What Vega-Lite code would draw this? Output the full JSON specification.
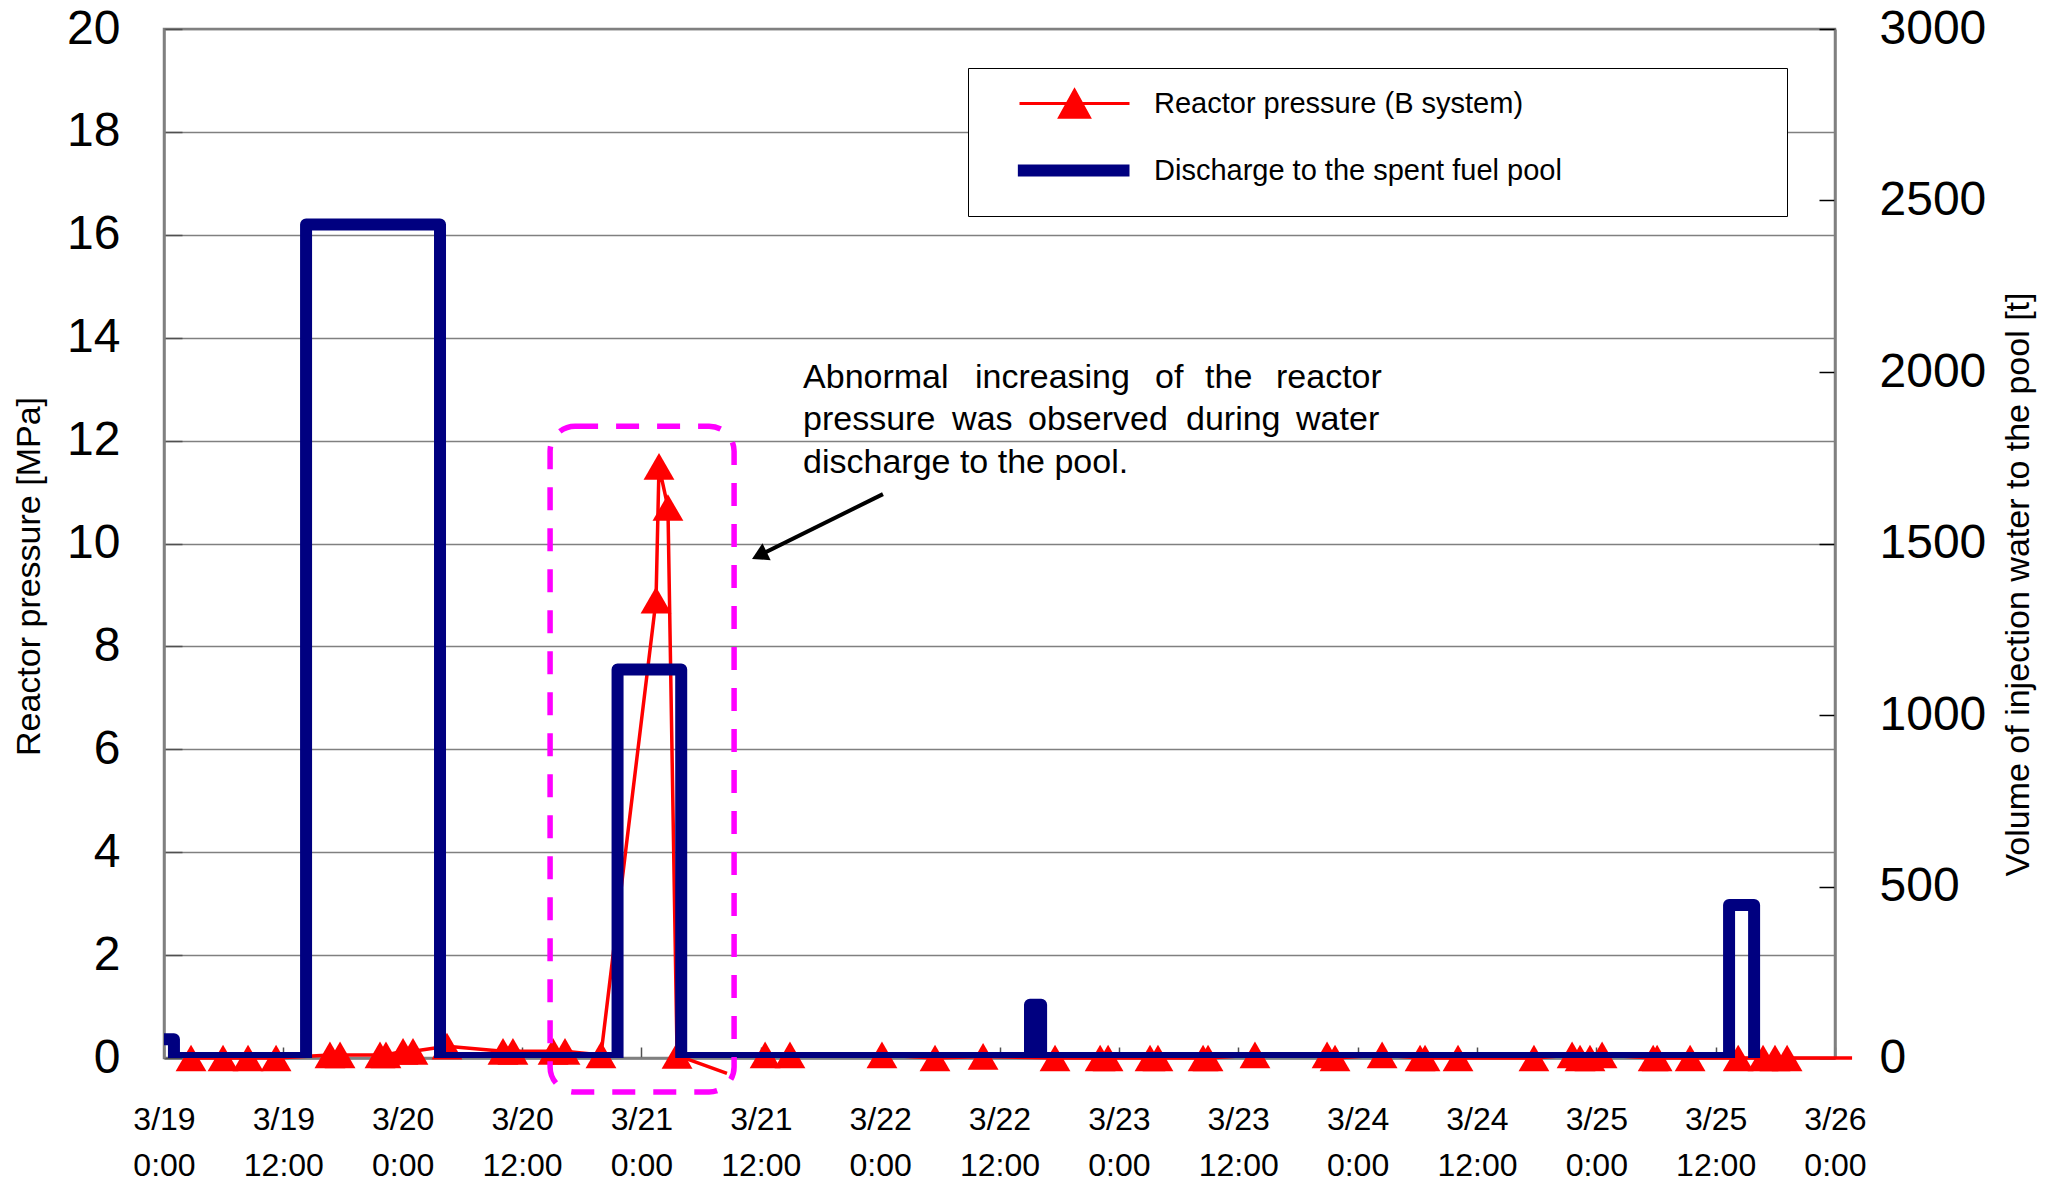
{
  "$schema": "https://vega.github.io/schema/vega-lite/v6.json",
  "width": 1671,
  "height": 1029,
  "autosize": {"type": "none"},
  "padding": {"left": 164, "top": 29, "right": 225, "bottom": 126},
  "background": "#ffffff",
  "config": {
    "font": "Liberation Sans",
    "view": {"stroke": "#808080", "strokeWidth": 2.5},
    "axis": {"labelFont": "Liberation Sans", "titleFont": "Liberation Sans", "labelColor": "#000000", "titleColor": "#000000", "titleFontWeight": "normal"}
  },
  "datasets": {
    "press": [
      {"t": "2011-03-19T02:43:00Z", "p": 0, "seg": 1},
      {"t": "2011-03-19T05:56:00Z", "p": 0, "seg": 1},
      {"t": "2011-03-19T08:27:00Z", "p": 0, "seg": 1},
      {"t": "2011-03-19T11:16:00Z", "p": 0, "seg": 1},
      {"t": "2011-03-19T16:41:00Z", "p": 0.06, "seg": 1},
      {"t": "2011-03-19T17:42:00Z", "p": 0.06, "seg": 1},
      {"t": "2011-03-19T21:43:00Z", "p": 0.06, "seg": 1},
      {"t": "2011-03-19T22:19:00Z", "p": 0.06, "seg": 1},
      {"t": "2011-03-20T00:02:00Z", "p": 0.13, "seg": 1},
      {"t": "2011-03-20T01:02:00Z", "p": 0.13, "seg": 1},
      {"t": "2011-03-20T04:27:00Z", "p": 0.23, "seg": 1},
      {"t": "2011-03-20T10:05:00Z", "p": 0.13, "seg": 1},
      {"t": "2011-03-20T11:05:00Z", "p": 0.13, "seg": 1},
      {"t": "2011-03-20T15:07:00Z", "p": 0.13, "seg": 1},
      {"t": "2011-03-20T16:19:00Z", "p": 0.13, "seg": 1},
      {"t": "2011-03-20T19:56:00Z", "p": 0.06, "seg": 1},
      {"t": "2011-03-21T01:28:00Z", "p": 8.9, "seg": 1},
      {"t": "2011-03-21T01:46:00Z", "p": 11.5, "seg": 1},
      {"t": "2011-03-21T02:40:00Z", "p": 10.7, "seg": 1},
      {"t": "2011-03-21T03:35:00Z", "p": 0.05, "seg": 1},
      {"t": "2011-03-21T08:36:00Z", "p": -0.3, "seg": 1},
      {"t": "2011-03-21T12:26:00Z", "p": 0.06, "seg": 2},
      {"t": "2011-03-21T14:56:00Z", "p": 0.06, "seg": 2},
      {"t": "2011-03-22T00:11:00Z", "p": 0.06, "seg": 2},
      {"t": "2011-03-22T05:31:00Z", "p": 0, "seg": 2},
      {"t": "2011-03-22T10:21:00Z", "p": 0.03, "seg": 2},
      {"t": "2011-03-22T17:35:00Z", "p": 0, "seg": 2},
      {"t": "2011-03-22T22:07:00Z", "p": 0, "seg": 2},
      {"t": "2011-03-22T22:55:00Z", "p": 0, "seg": 2},
      {"t": "2011-03-23T03:08:00Z", "p": 0, "seg": 2},
      {"t": "2011-03-23T03:56:00Z", "p": 0, "seg": 2},
      {"t": "2011-03-23T08:28:00Z", "p": 0, "seg": 2},
      {"t": "2011-03-23T08:58:00Z", "p": 0, "seg": 2},
      {"t": "2011-03-23T13:41:00Z", "p": 0.06, "seg": 2},
      {"t": "2011-03-23T20:56:00Z", "p": 0.06, "seg": 2},
      {"t": "2011-03-23T21:44:00Z", "p": 0, "seg": 2},
      {"t": "2011-03-24T02:28:00Z", "p": 0.06, "seg": 2},
      {"t": "2011-03-24T06:17:00Z", "p": 0, "seg": 2},
      {"t": "2011-03-24T06:47:00Z", "p": 0, "seg": 2},
      {"t": "2011-03-24T10:06:00Z", "p": 0, "seg": 2},
      {"t": "2011-03-24T17:44:00Z", "p": 0, "seg": 2},
      {"t": "2011-03-24T21:34:00Z", "p": 0.06, "seg": 2},
      {"t": "2011-03-24T22:22:00Z", "p": 0, "seg": 2},
      {"t": "2011-03-24T23:22:00Z", "p": 0, "seg": 2},
      {"t": "2011-03-25T00:35:00Z", "p": 0.06, "seg": 2},
      {"t": "2011-03-25T05:43:00Z", "p": 0, "seg": 2},
      {"t": "2011-03-25T06:07:00Z", "p": 0, "seg": 2},
      {"t": "2011-03-25T09:26:00Z", "p": 0, "seg": 2},
      {"t": "2011-03-25T14:16:00Z", "p": 0, "seg": 2},
      {"t": "2011-03-25T16:46:00Z", "p": 0, "seg": 2},
      {"t": "2011-03-25T17:58:00Z", "p": 0, "seg": 2},
      {"t": "2011-03-25T19:11:00Z", "p": 0, "seg": 2},
      {"t": "2011-03-26T01:43:00Z", "p": 0, "seg": 2}
    ],
    "dis": [
      {"i": 1, "t": "2011-03-19T00:00:00Z", "v": 55},
      {"i": 2, "t": "2011-03-19T01:00:00Z", "v": 55},
      {"i": 3, "t": "2011-03-19T01:00:00Z", "v": 0},
      {"i": 4, "t": "2011-03-19T14:17:00Z", "v": 0},
      {"i": 5, "t": "2011-03-19T14:17:00Z", "v": 2430},
      {"i": 6, "t": "2011-03-20T03:45:00Z", "v": 2430},
      {"i": 7, "t": "2011-03-20T03:45:00Z", "v": 0},
      {"i": 8, "t": "2011-03-20T21:36:00Z", "v": 0},
      {"i": 9, "t": "2011-03-20T21:36:00Z", "v": 1133},
      {"i": 10, "t": "2011-03-21T04:00:00Z", "v": 1133},
      {"i": 11, "t": "2011-03-21T04:00:00Z", "v": 0},
      {"i": 12, "t": "2011-03-22T15:04:00Z", "v": 0},
      {"i": 13, "t": "2011-03-22T15:04:00Z", "v": 155},
      {"i": 14, "t": "2011-03-22T16:11:00Z", "v": 155},
      {"i": 15, "t": "2011-03-22T16:11:00Z", "v": 0},
      {"i": 16, "t": "2011-03-25T13:21:00Z", "v": 0},
      {"i": 17, "t": "2011-03-25T13:21:00Z", "v": 446},
      {"i": 18, "t": "2011-03-25T15:52:00Z", "v": 446},
      {"i": 19, "t": "2011-03-25T15:52:00Z", "v": 0}
    ],
    "note": [
      {"t": "2011-03-21T16:15:00Z", "p": 13.02, "w": "Abnormal"},
      {"t": "2011-03-22T09:32:00Z", "p": 13.02, "w": "increasing"},
      {"t": "2011-03-23T03:38:00Z", "p": 13.02, "w": "of"},
      {"t": "2011-03-23T08:40:00Z", "p": 13.02, "w": "the"},
      {"t": "2011-03-23T15:48:00Z", "p": 13.02, "w": "reactor"},
      {"t": "2011-03-21T16:15:00Z", "p": 12.21, "w": "pressure"},
      {"t": "2011-03-22T07:14:00Z", "p": 12.21, "w": "was"},
      {"t": "2011-03-22T14:52:00Z", "p": 12.21, "w": "observed"},
      {"t": "2011-03-23T06:45:00Z", "p": 12.21, "w": "during"},
      {"t": "2011-03-23T17:49:00Z", "p": 12.21, "w": "water"},
      {"t": "2011-03-21T16:15:00Z", "p": 11.37, "w": "discharge to the pool."}
    ],
    "arrow": [
      {"t": "2011-03-22T00:17:00Z", "p": 10.96, "t2": "2011-03-21T11:51:00Z", "p2": 9.77}
    ],
    "box": [
      {"t": "2011-03-20T14:49:00Z", "p": 12.28, "t2": "2011-03-21T09:19:00Z", "p2": -0.66}
    ]
  },
  "layer": [
    {
      "data": {"name": "press", "format": {"parse": {"t": "date"}}},
      "mark": {"type": "line", "strokeWidth": 3.5, "strokeJoin": "round"},
      "encoding": {
        "x": {
          "field": "t", "type": "temporal",
          "scale": {"type": "utc", "domain": [{"year": 2011, "month": 3, "date": 19, "utc": true}, {"year": 2011, "month": 3, "date": 26, "utc": true}], "nice": false},
          "axis": {
            "orient": "bottom", "title": null, "grid": false,
            "values": [
              {"year": 2011, "month": 3, "date": 19, "hours": 0, "utc": true},
              {"year": 2011, "month": 3, "date": 19, "hours": 12, "utc": true},
              {"year": 2011, "month": 3, "date": 20, "hours": 0, "utc": true},
              {"year": 2011, "month": 3, "date": 20, "hours": 12, "utc": true},
              {"year": 2011, "month": 3, "date": 21, "hours": 0, "utc": true},
              {"year": 2011, "month": 3, "date": 21, "hours": 12, "utc": true},
              {"year": 2011, "month": 3, "date": 22, "hours": 0, "utc": true},
              {"year": 2011, "month": 3, "date": 22, "hours": 12, "utc": true},
              {"year": 2011, "month": 3, "date": 23, "hours": 0, "utc": true},
              {"year": 2011, "month": 3, "date": 23, "hours": 12, "utc": true},
              {"year": 2011, "month": 3, "date": 24, "hours": 0, "utc": true},
              {"year": 2011, "month": 3, "date": 24, "hours": 12, "utc": true},
              {"year": 2011, "month": 3, "date": 25, "hours": 0, "utc": true},
              {"year": 2011, "month": 3, "date": 25, "hours": 12, "utc": true},
              {"year": 2011, "month": 3, "date": 26, "hours": 0, "utc": true}
            ],
            "labelExpr": "[utcFormat(datum.value, '%-m/%-d'), utcFormat(datum.value, '%-H:%M')]",
            "labelFontSize": 32, "labelLineHeight": 46, "labelPadding": 57,
            "labelOverlap": false, "labelFlush": false, "labelBound": false,
            "ticks": true, "tickSize": -11, "tickColor": "#505050", "tickWidth": 1.5,
            "domainColor": "#808080", "domainWidth": 2.5
          }
        },
        "y": {
          "field": "p", "type": "quantitative",
          "scale": {"domain": [0, 20], "nice": false, "zero": false},
          "axis": {
            "orient": "left", "values": [0, 2, 4, 6, 8, 10, 12, 14, 16, 18, 20], "format": "d",
            "grid": true, "gridColor": "#808080", "gridWidth": 1.3,
            "domainColor": "#808080", "domainWidth": 2.5,
            "ticks": true, "tickSize": -18, "tickColor": "#505050", "tickWidth": 1.5,
            "labelFontSize": 48, "labelPadding": 62,
            "title": "Reactor pressure [MPa]", "titleFontSize": 34,
            "titleX": -135, "titleY": 547, "titleAngle": 270, "titleBaseline": "middle", "titleAlign": "center"
          }
        },
        "detail": {"field": "seg", "type": "nominal"},
        "color": {
          "datum": "Reactor pressure (B system)",
          "scale": {"domain": ["Reactor pressure (B system)", "Discharge to the spent fuel pool"], "range": ["#ff0000", "#000080"]},
          "legend": {
            "orient": "none", "legendX": 804, "legendY": 39,
            "title": "MMMMMMMM", "titleOrient": "right", "titleColor": "#ffffff",
            "titleFont": "Liberation Sans", "titleFontSize": 29, "titleFontWeight": "normal", "titlePadding": 10, "titleLimit": 3000,
            "padding": 21, "strokeColor": "#000000", "fillColor": "#ffffff",
            "labelFont": "Liberation Sans", "labelFontSize": 29, "labelColor": "#000000",
            "labelOffset": 65, "labelLimit": 3000,
            "symbolSize": 12100, "symbolOffset": 71, "rowPadding": 22,
            "encode": {
              "symbols": {"update": {
                "shape": {"signal": "datum.value === 'Reactor pressure (B system)' ? 'M-1,0L1,0M0,-0.24L0.27,0.25L-0.27,0.25Z' : 'M-1.03,0L1,0'"},
                "fill": {"signal": "datum.value === 'Reactor pressure (B system)' ? '#ff0000' : 'transparent'"},
                "stroke": {"signal": "datum.value === 'Reactor pressure (B system)' ? '#ff0000' : '#000080'"},
                "strokeWidth": {"signal": "datum.value === 'Reactor pressure (B system)' ? 3 : 12"},
                "size": {"value": 12100},
                "opacity": {"value": 1}
              }}
            }
          }
        }
      }
    },
    {
      "data": {"name": "press", "format": {"parse": {"t": "date"}}},
      "transform": [{"filter": "datum.p >= 0 && time(datum.t) < utc(2011, 2, 26)"}],
      "mark": {"type": "point", "shape": "triangle-up", "filled": true, "size": 950, "opacity": 1},
      "encoding": {
        "x": {"field": "t", "type": "temporal"},
        "y": {"field": "p", "type": "quantitative", "scale": {"domain": [0, 20], "nice": false, "zero": false}, "axis": null},
        "color": {"datum": "Reactor pressure (B system)"}
      }
    },
    {
      "data": {"name": "dis", "format": {"parse": {"t": "date"}}},
      "mark": {"type": "line", "strokeWidth": 12, "strokeJoin": "round", "clip": true},
      "encoding": {
        "x": {"field": "t", "type": "temporal"},
        "y": {
          "field": "v", "type": "quantitative",
          "scale": {"domain": [0, 3000], "nice": false, "zero": false},
          "axis": {
            "orient": "right", "values": [0, 500, 1000, 1500, 2000, 2500, 3000], "format": "d",
            "grid": false, "domainColor": "#808080", "domainWidth": 2.5,
            "ticks": true, "tickSize": -16, "tickColor": "#000000", "tickWidth": 1.5,
            "labelFontSize": 48, "labelPadding": 60,
            "title": "Volume of injection water to the pool [t]", "titleFontSize": 34,
            "titleX": 183, "titleY": 555, "titleAngle": 270, "titleBaseline": "middle", "titleAlign": "center"
          }
        },
        "order": {"field": "i", "type": "quantitative"},
        "color": {"datum": "Discharge to the spent fuel pool"}
      }
    },
    {
      "data": {"name": "note", "format": {"parse": {"t": "date"}}},
      "mark": {"type": "text", "align": "left", "baseline": "alphabetic", "fontSize": 34, "font": "Liberation Sans", "color": "#000000"},
      "encoding": {
        "x": {"field": "t", "type": "temporal"},
        "y": {"field": "p", "type": "quantitative", "scale": {"domain": [0, 20], "nice": false, "zero": false}, "axis": null},
        "text": {"field": "w"}
      }
    },
    {
      "data": {"name": "arrow", "format": {"parse": {"t": "date", "t2": "date"}}},
      "mark": {"type": "rule", "strokeWidth": 4, "color": "#000000"},
      "encoding": {
        "x": {"field": "t", "type": "temporal"},
        "x2": {"field": "t2"},
        "y": {"field": "p", "type": "quantitative", "scale": {"domain": [0, 20], "nice": false, "zero": false}, "axis": null},
        "y2": {"field": "p2"}
      }
    },
    {
      "data": {"name": "arrow", "format": {"parse": {"t": "date", "t2": "date"}}},
      "mark": {"type": "point", "shape": "triangle-up", "filled": true, "size": 350, "angle": 244, "color": "#000000", "opacity": 1},
      "encoding": {
        "x": {"field": "t2", "type": "temporal"},
        "y": {"field": "p2", "type": "quantitative", "scale": {"domain": [0, 20], "nice": false, "zero": false}, "axis": null}
      }
    },
    {
      "data": {"name": "box", "format": {"parse": {"t": "date", "t2": "date"}}},
      "mark": {"type": "rect", "filled": false, "stroke": "#ff00ff", "strokeWidth": 5.5, "strokeDash": [23, 18], "cornerRadius": 25},
      "encoding": {
        "x": {"field": "t", "type": "temporal"},
        "x2": {"field": "t2"},
        "y": {"field": "p", "type": "quantitative", "scale": {"domain": [0, 20], "nice": false, "zero": false}, "axis": null},
        "y2": {"field": "p2"}
      }
    }
  ],
  "resolve": {"scale": {"y": "independent"}}
}
